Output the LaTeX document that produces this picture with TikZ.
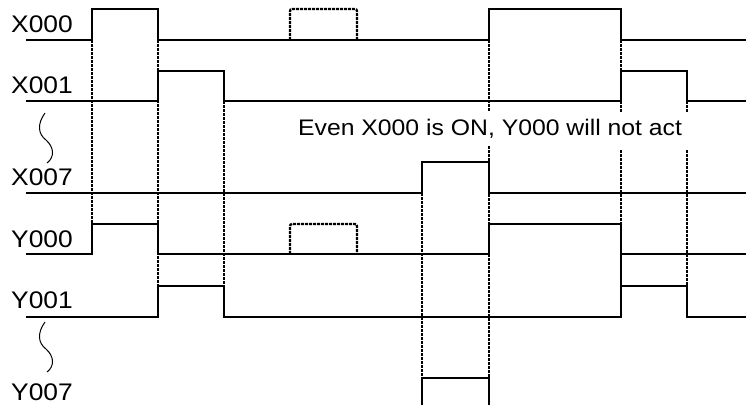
\documentclass[tikz,border=0pt]{standalone}
\usepackage{fontspec}
\setmainfont[FakeStretch=1.1]{Liberation Sans}
\begin{document}
\begin{tikzpicture}[x=1pt,y=-1pt,
  sig/.style={line width=1.5pt},
  guide/.style={line width=2.3pt,dash pattern=on 3pt off 1pt},
  squig/.style={line width=1pt},
  lbl/.style={anchor=base west,inner sep=0pt,font=\fontsize{24}{26}\selectfont},
  notestyle/.style={anchor=base west,inner sep=0pt,font=\fontsize{22.5}{24}\selectfont},
]
\useasboundingbox (0,0) rectangle (746,405);
% labels
\node[lbl] (lx0) at (11,32) {X000};
\node[lbl] (lx1) at (11,93) {X001};
\node[lbl] (lx7) at (11,185) {X007};
\node[lbl] (ly0) at (11,247) {Y000};
\node[lbl] (ly1) at (11,308) {Y001};
\node[lbl] (ly7) at (11,400) {Y007};
\node[notestyle] (note) at (298,135) {Even X000 is ON, Y000 will not act};
% squiggles
\draw[squig] (45,113) .. controls (37,124) and (38,134) .. (46,140) .. controls (54,147) and (55,157) .. (47,163);
\draw[squig] (45,322) .. controls (37,333) and (38,343) .. (46,349) .. controls (54,356) and (55,366) .. (47,372);
% signals
\draw[sig] (26,40) -| (92,9) -| (158,40) -| (489,9) -| (621,40) -- (746,40);
\draw[sig] (26,101) -| (158,71) -| (224,101) -| (621,71) -| (687,101) -- (746,101);
\draw[sig] (26,193) -| (422,162) -| (489,193) -- (746,193);
\draw[sig] (26,254) -| (92,224) -| (158,254) -| (489,224) -| (621,254) -- (746,254);
\draw[sig] (26,317) -| (158,286) -| (224,317) -| (621,286) -| (687,317) -- (746,317);
\draw[sig] (621,254) -- (621,286);
\draw[sig] (422,405) |- (489,378) -- (489,405);
% dashed pulses
\draw[guide,rounded corners=2pt] (290,40) -- (290,9) -- (357,9) -- (357,40);
\draw[guide,rounded corners=2pt] (290,254) -- (290,224) -- (357,224) -- (357,254);
% dashed guides
\draw[guide] (92,40) -- (92,224);
\draw[guide] (158,40) -- (158,286);
\draw[guide] (224,101) -- (224,286);
\draw[guide] (422,193) -- (422,378);
\draw[guide] (489,40) -- (489,112);
\draw[guide] (489,146) -- (489,378);
\draw[guide] (621,40) -- (621,71);
\draw[guide] (621,101) -- (621,112);
\draw[guide] (621,150) -- (621,224);
\draw[guide] (687,101) -- (687,112);
\draw[guide] (687,150) -- (687,286);
\end{tikzpicture}
\end{document}
